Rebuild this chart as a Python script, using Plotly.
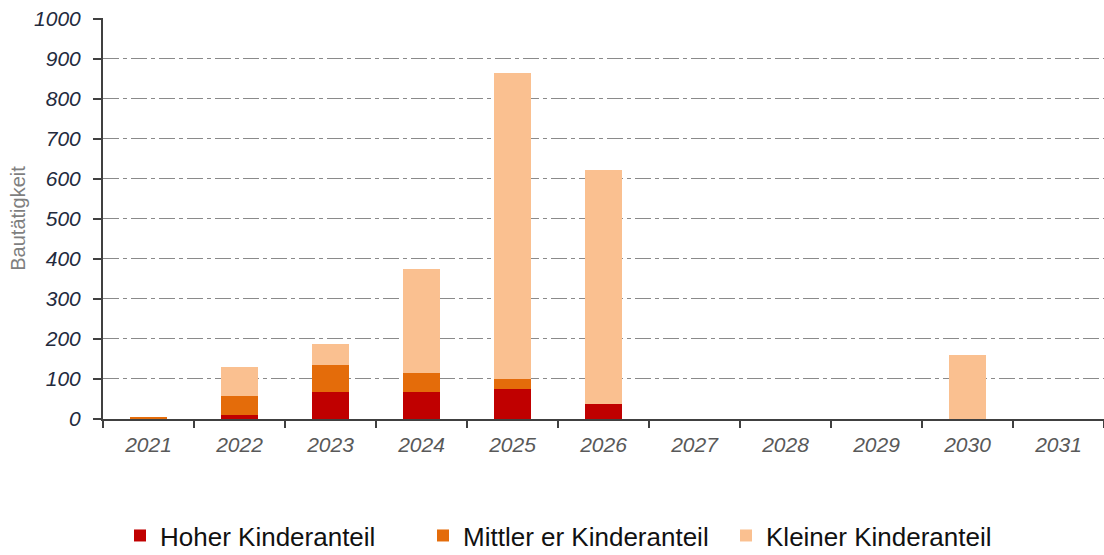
import plotly.graph_objects as go

years = ["2021", "2022", "2023", "2024", "2025", "2026", "2027", "2028", "2029", "2030", "2031"]
hoher = [0, 9, 67, 67, 74, 37, 0, 0, 0, 0, 0]
mittlerer = [6, 48, 68, 48, 26, 0, 0, 0, 0, 0, 0]
kleiner = [0, 72, 52, 259, 765, 586, 0, 0, 0, 160, 0]
y_ticks = [0, 100, 200, 300, 400, 500, 600, 700, 800, 900, 1000]

series = [
    ("Hoher Kinderanteil", hoher, "#C00000"),
    ("Mittler er Kinderanteil", mittlerer, "#E46C0A"),
    ("Kleiner Kinderanteil", kleiner, "#FAC090"),
]

fig = go.Figure()
for name, vals, col in series:
    fig.add_trace(go.Bar(x=years, y=vals, name=name, marker=dict(color=col, line=dict(width=0)),
                         width=0.4))

fig.update_layout(
    barmode="stack",
    width=1104, height=555,
    margin=dict(l=103, r=0, t=18, b=136),
    plot_bgcolor="white", paper_bgcolor="white",
    font=dict(family="Liberation Sans, Arial, sans-serif"),
    showlegend=True,
    legend=dict(orientation="h", x=0.017, xanchor="left", yref="container", y=0.035,
                yanchor="middle",
                font=dict(size=26, color="#111111"), entrywidth=258, entrywidthmode="pixels",
                itemsizing="constant", traceorder="normal"),
    xaxis=dict(type="category", showline=True, linecolor="#404040", linewidth=2,
               ticks="outside", tickson="boundaries", ticklen=7, tickcolor="#404040", tickwidth=2,
               tickfont=dict(size=21, color="#595959", family="Liberation Sans, Arial"),
               ticklabelstandoff=6,
               showgrid=False, range=[-0.5, 10.5], automargin=False),
    yaxis=dict(range=[0, 1002], tickvals=y_ticks, ticktext=[f"<i>{v}</i>" for v in y_ticks],
               showline=True, linecolor="#404040", linewidth=2,
               ticks="outside", ticklen=8, tickcolor="#404040", tickwidth=2,
               tickfont=dict(size=21, color="#232a3d"),
               ticklabelstandoff=8,
               showgrid=True, gridcolor="#8a8a8a", gridwidth=1, griddash="16px,4px,4px,4px",
               zeroline=False, automargin=False,
               title=dict(text="Bautätigkeit", font=dict(size=20, color="#7f7f7f"), standoff=3)),
)
fig.update_xaxes(ticktext=[f"<i>{y}</i>" for y in years], tickvals=years)

fig.write_html(
    "out.html",
    config={"displayModeBar": False},
    post_script="document.body.style.margin='0';document.body.style.overflow='hidden';",
)
